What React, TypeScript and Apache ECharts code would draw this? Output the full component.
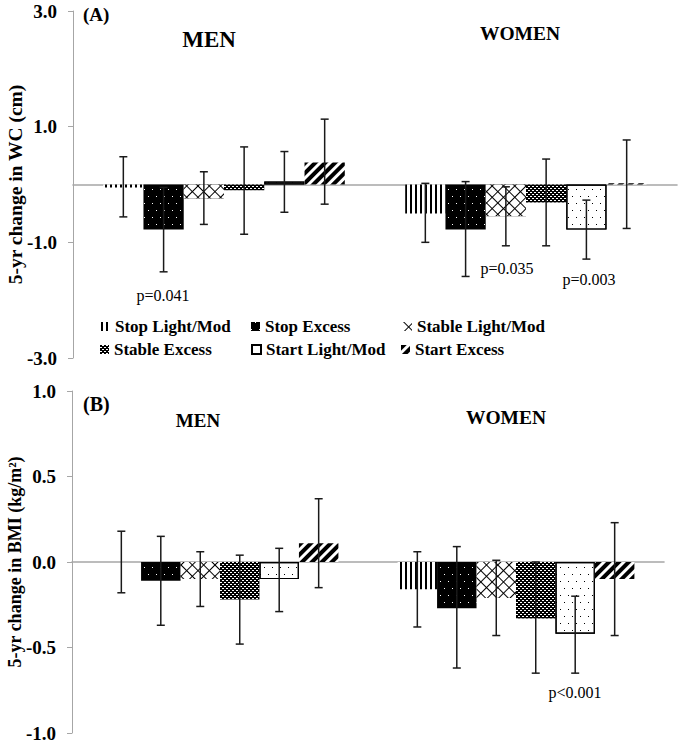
import React, { useEffect, useRef } from "react";
import * as echarts from "echarts";

// ---------- data ----------
const categories = ["MEN", "WOMEN"];
const seriesNames = [
  "Stop Light/Mod",
  "Stop Excess",
  "Stable Light/Mod",
  "Stable Excess",
  "Start Light/Mod",
  "Start Excess",
];

// Panel A: 5-yr change in WC (cm)  [MEN, WOMEN]
const wcStopLight = [-0.05, -0.5];
const wcStopExcess = [-0.78, -0.78];
const wcStableLight = [-0.24, -0.55];
const wcStableExcess = [-0.1, -0.31];
const wcStartLight = [0.05, -0.78];
const wcStartExcess = [0.38, 0.02];

const wcLow = [
  [-0.56, -1.0],
  [-1.51, -1.59],
  [-0.69, -1.06],
  [-0.86, -1.06],
  [-0.48, -1.29],
  [-0.34, -0.76],
];
const wcHigh = [
  [0.48, 0.02],
  [-0.05, 0.05],
  [0.22, -0.04],
  [0.65, 0.44],
  [0.57, -0.27],
  [1.13, 0.77],
];

// Panel B: 5-yr change in BMI (kg/m2)  [MEN, WOMEN]
const bmiStopLight = [0.0, -0.16];
const bmiStopExcess = [-0.11, -0.27];
const bmiStableLight = [-0.1, -0.21];
const bmiStableExcess = [-0.22, -0.33];
const bmiStartLight = [-0.1, -0.42];
const bmiStartExcess = [0.11, -0.1];

const bmiLow = [
  [-0.18, -0.38],
  [-0.37, -0.62],
  [-0.26, -0.43],
  [-0.48, -0.65],
  [-0.29, -0.65],
  [-0.15, -0.43],
];
const bmiHigh = [
  [0.18, 0.06],
  [0.15, 0.09],
  [0.06, 0.01],
  [0.04, 0.0],
  [0.08, -0.2],
  [0.37, 0.23],
];

const wcTicks = [-3, -1, 1, 3];
const bmiTicks = [-1, -0.5, 0, 0.5, 1];

const wcValues = [wcStopLight, wcStopExcess, wcStableLight, wcStableExcess, wcStartLight, wcStartExcess];
const bmiValues = [bmiStopLight, bmiStopExcess, bmiStableLight, bmiStableExcess, bmiStartLight, bmiStartExcess];

// ---------- styles ----------
const FONT = "'Liberation Serif', 'Times New Roman', serif";
const AXIS_GRAY = "#a6a6a6";

const barStyles: any[] = [
  {
    color: "#ffffff",
    decal: { symbol: "rect", color: "#000", dashArrayX: [2, 3], dashArrayY: [1, 0], symbolSize: 1, symbolKeepAspect: false },
  },
  {
    color: "#000000",
    decal: { symbol: "rect", color: "#fff", dashArrayX: [[1, 7], [0, 4, 1, 3]], dashArrayY: [1, 6], symbolSize: 1, symbolKeepAspect: false },
  },
  {
    color: "#000000",
    decal: { symbol: "rect", color: "#fff", dashArrayX: [7, 1], dashArrayY: [7, 1], rotation: Math.PI / 4, symbolSize: 1, symbolKeepAspect: false },
  },
  {
    color: "#000000",
    decal: { symbol: "rect", color: "#fff", dashArrayX: [[2, 2], [0, 2, 2, 0]], dashArrayY: [1, 1], symbolSize: 1, symbolKeepAspect: false },
  },
  {
    color: "#ffffff",
    borderColor: "#000",
    borderWidth: 1.2,
    decal: { symbol: "rect", color: "#000", dashArrayX: [[1, 7], [0, 4, 1, 3]], dashArrayY: [1, 6], symbolSize: 1, symbolKeepAspect: false },
  },
  {
    color: "#ffffff",
    decal: { symbol: "rect", color: "#000", dashArrayX: [4, 3], dashArrayY: [1, 0], rotation: Math.PI / 4, symbolSize: 1, symbolKeepAspect: false },
  },
];

function errorSeries(panel: number, idx: number, low: number[], high: number[]) {
  return {
    type: "custom",
    xAxisIndex: panel,
    yAxisIndex: panel,
    silent: true,
    z: 10,
    encode: { x: 0, y: [1, 2] },
    data: categories.map((_, i) => [i, low[i], high[i]]),
    renderItem: (params: any, api: any) => {
      const cat = api.value(0);
      const lo = api.coord([cat, api.value(1)]);
      const hi = api.coord([cat, api.value(2)]);
      const band = api.size([1, 0])[0];
      const bw = (band * 0.8) / 6;
      const x = lo[0] - band * 0.4 + bw * (idx + 0.5);
      const cap = 4;
      const st = { stroke: "#1a1a1a", lineWidth: 1.5 };
      return {
        type: "group",
        children: [
          { type: "line", shape: { x1: x, y1: hi[1], x2: x, y2: lo[1] }, style: st },
          { type: "line", shape: { x1: x - cap, y1: hi[1], x2: x + cap, y2: hi[1] }, style: st },
          { type: "line", shape: { x1: x - cap, y1: lo[1], x2: x + cap, y2: lo[1] }, style: st },
        ],
      };
    },
  };
}

function buildOption() {
  const series: any[] = [];
  [wcValues, bmiValues].forEach((vals, panel) => {
    vals.forEach((v, s) => {
      series.push({
        name: seriesNames[s],
        type: "bar",
        xAxisIndex: panel,
        yAxisIndex: panel,
        data: v,
        barGap: "0%",
        barCategoryGap: "20%",
        itemStyle: barStyles[s],
        emphasis: { disabled: true },
      });
    });
  });
  wcLow.forEach((lo, s) => series.push(errorSeries(0, s, lo, wcHigh[s])));
  bmiLow.forEach((lo, s) => series.push(errorSeries(1, s, lo, bmiHigh[s])));

  const legendPos = [
    [101, 318],
    [251, 318],
    [403, 318],
    [100, 341],
    [251, 341],
    [401, 341],
  ];
  const legends = seriesNames.map((n, i) => ({
    data: [n],
    left: legendPos[i][0],
    top: legendPos[i][1],
    itemWidth: 9,
    itemHeight: 9,
    itemGap: 0,
    padding: 0,
    icon: "rect",
    selectedMode: false,
    textStyle: { fontFamily: FONT, fontWeight: "bold", fontSize: 17, color: "#000" },
  }));

  const yAxisCommon = (min: number, max: number, ticks: number[], name: string, nameFont: number) => ({
    type: "value",
    min,
    max,
    name,
    nameLocation: "middle",
    nameGap: 48,
    nameMoveOverlap: false,
    nameTextStyle: { fontFamily: FONT, fontWeight: "bold", fontSize: nameFont, color: "#000" },
    axisLine: { show: true, lineStyle: { color: AXIS_GRAY, width: 1 } },
    axisTick: { show: true, length: 5, inside: false, customValues: ticks, lineStyle: { color: AXIS_GRAY } },
    axisLabel: {
      customValues: ticks,
      margin: 16,
      fontFamily: FONT,
      fontWeight: "bold",
      fontSize: 19,
      color: "#000",
      formatter: (v: number) => v.toFixed(1),
    },
    splitLine: { show: false },
  });

  const xAxisCommon = (gridIndex: number) => ({
    type: "category",
    gridIndex,
    data: categories,
    axisLine: { onZero: true, lineStyle: { color: AXIS_GRAY, width: 1.6 } },
    axisTick: { show: false },
    axisLabel: { show: false },
    splitLine: { show: false },
  });

  const txt = (text: string, x: number, y: number, size: number, bold: boolean, align = "center") => ({
    type: "text",
    x,
    y,
    z: 20,
    style: {
      text,
      fontFamily: FONT,
      fontWeight: bold ? "bold" : "normal",
      fontSize: size,
      fill: "#000",
      textAlign: align,
      textVerticalAlign: "middle",
    },
  });

  return {
    animation: false,
    backgroundColor: "#ffffff",
    grid: [
      { left: 73, top: 11, width: 604, height: 347, containLabel: false, outerBoundsMode: "none" },
      { left: 72, top: 391, width: 592, height: 342, containLabel: false, outerBoundsMode: "none" },
    ],
    xAxis: [xAxisCommon(0), xAxisCommon(1)],
    yAxis: [
      { gridIndex: 0, ...yAxisCommon(-3, 3, wcTicks, "5-yr change in WC (cm)", 19.5) },
      { gridIndex: 1, ...yAxisCommon(-1, 1, bmiTicks, "5-yr change in BMI (kg/m²)", 18) },
    ],
    legend: legends,
    series,
    graphic: [
      txt("(A)", 83, 14, 19, true, "left"),
      txt("MEN", 209, 39, 23, true),
      txt("WOMEN", 520, 33, 19.5, true),
      txt("p=0.041", 163, 295, 16, false),
      txt("p=0.035", 507, 268, 16, false),
      txt("p=0.003", 589, 279, 16, false),
      txt("(B)", 83, 404, 20, true, "left"),
      txt("MEN", 198, 420, 19, true),
      txt("WOMEN", 506, 417, 19.5, true),
      txt("p<0.001", 575, 692, 16, false),
    ],
  };
}

export default function App() {
  const ref = useRef<HTMLDivElement>(null);
  useEffect(() => {
    if (!ref.current) return;
    const chart = echarts.init(ref.current, null, { renderer: "svg" });
    chart.setOption(buildOption() as any);
    return () => chart.dispose();
  }, []);
  return (
    <div
      ref={ref}
      style={{ position: "fixed", left: 0, top: 0, width: 679, height: 742, background: "#fff" }}
    />
  );
}
